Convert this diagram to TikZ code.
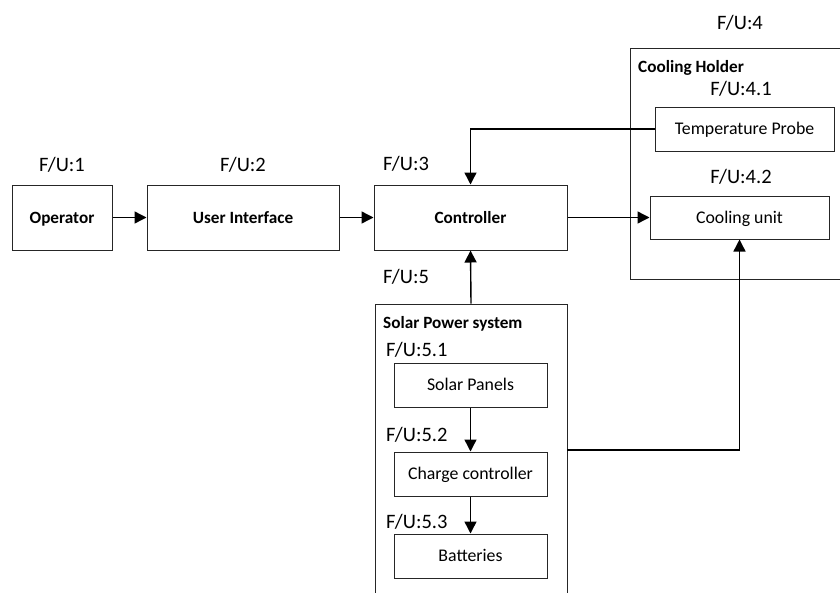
\documentclass[tikz,border=0pt]{standalone}
\usepackage{fontspec}
\setmainfont{Carlito}
\usetikzlibrary{arrows.meta,calc}
\tikzset{
  box/.style={draw=black!85,line width=1pt,rectangle,inner sep=0pt,text height=11.4pt,text depth=0pt,font=\fontsize{17.8}{20}\selectfont},
  bbox/.style={box,font=\fontsize{17.2}{20}\selectfont\bfseries},
  cont/.style={draw=black!85,line width=1pt,rectangle,inner sep=0pt},
  fu/.style={anchor=base,inner sep=0pt,font=\fontsize{20.5}{24}\selectfont},
  fuw/.style={anchor=base west,inner sep=0pt,font=\fontsize{20.5}{24}\selectfont},
  ttl/.style={anchor=base west,inner sep=0pt,font=\fontsize{17.2}{20}\selectfont\bfseries},
  arr/.style={line width=1.4pt,-{Triangle[length=12pt,width=12pt]}}
}
\begin{document}
\begin{tikzpicture}[x=1pt,y=-1pt]
\useasboundingbox (0,0) rectangle (840,592);
% containers
\node[cont,minimum width=222,minimum height=231] (holder) at (741,163.5) {};
\node[cont,minimum width=192,minimum height=320] (solar) at (471,464) {};
% boxes
\node[bbox,minimum width=100,minimum height=65] (op) at (62,217.5) {Operator};
\node[bbox,minimum width=192,minimum height=65] (ui) at (243,217.5) {User Interface};
\node[bbox,minimum width=193,minimum height=65] (ctrl) at (470.5,217.5) {Controller};
\node[box,minimum width=179,minimum height=44] (tp) at (744.5,129) {Temperature Probe};
\node[box,minimum width=179,minimum height=43] (cu) at (739.5,217.5) {Cooling unit};
\node[box,minimum width=153,minimum height=44] (sp) at (470.5,385) {Solar Panels};
\node[box,minimum width=153,minimum height=44] (cc) at (470.5,474) {Charge controller};
\node[box,minimum width=153,minimum height=44] (bat) at (470.5,556) {Batteries};
% labels
\node[fu] (l1) at (62,171) {F/U:1};
\node[fu] (l2) at (243,171) {F/U:2};
\node[fuw] (l3) at (383,170) {F/U:3};
\node[fu] (l4) at (740,29) {F/U:4};
\node[fu] (l41) at (741,95) {F/U:4.1};
\node[fu] (l42) at (741,183) {F/U:4.2};
\node[fuw] (l5) at (383,283) {F/U:5};
\node[fuw] (l51) at (386,356) {F/U:5.1};
\node[fuw] (l52) at (386,441) {F/U:5.2};
\node[fuw] (l53) at (386,528) {F/U:5.3};
\node[ttl] (t4) at (638,72) {Cooling Holder};
\node[ttl] (t5) at (383,328) {Solar Power system};
% connectors
\coordinate (tpc) at (470.5,129);
\coordinate (spw) at (567,450);
\draw[arr] (op) -- (ui);
\draw[arr] (ui) -- (ctrl);
\draw[arr] (ctrl) -- (cu);
\draw[arr] (tp.west) -- (tpc) -- (ctrl.north);
\draw[arr] (solar.north) -- (ctrl.south);
\draw[arr] (spw) -| (cu.south);
\draw[arr] (sp) -- (cc);
\draw[arr] (cc) -- (bat);
\end{tikzpicture}
\end{document}
